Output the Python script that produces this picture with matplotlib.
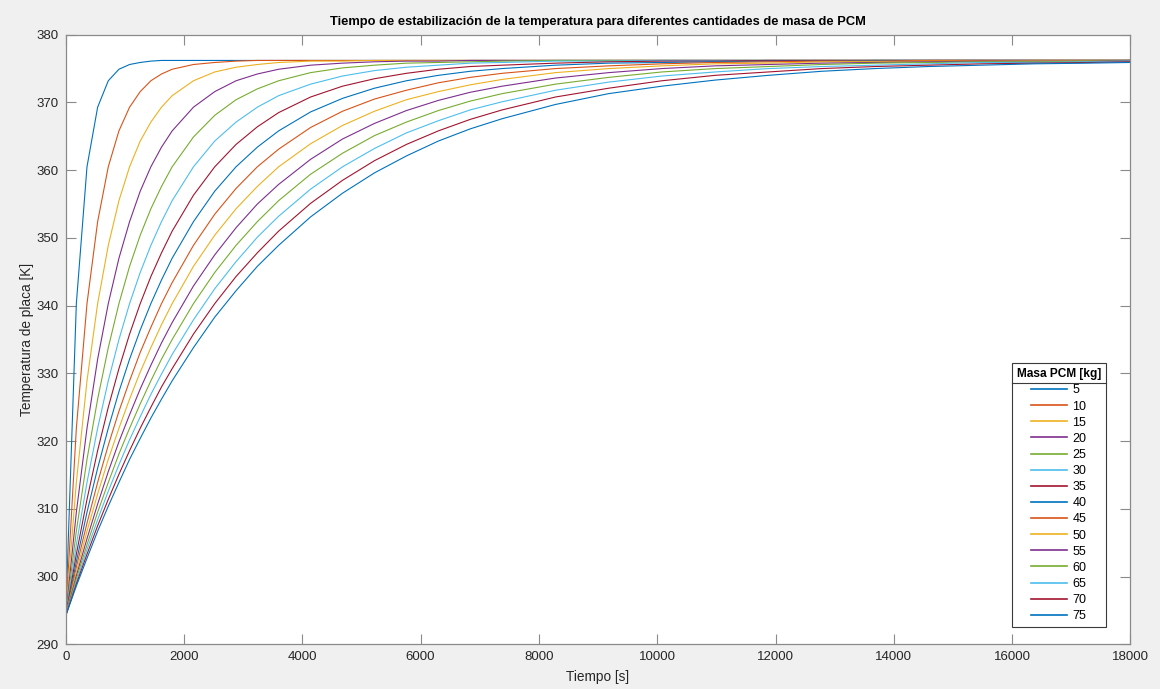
import matplotlib
matplotlib.use("Agg")
import matplotlib.pyplot as plt
from matplotlib.lines import Line2D

# ---------------- data ----------------
tiempo = [0, 180, 360, 540, 720, 900, 1080, 1260, 1440, 1620, 1800,
          2160, 2520, 2880, 3240, 3600, 4140, 4680, 5220, 5760, 6300,
          6840, 7380, 8280, 9180, 10080, 10980, 11880, 12780, 13680,
          14580, 15480, 16380, 17280, 18000]

masas = [5, 10, 15, 20, 25, 30, 35, 40, 45, 50, 55, 60, 65, 70, 75]

temp_m05 = [294.2, 340.3, 360.5, 369.3, 373.2, 374.9, 375.6, 375.9, 376.1, 376.2, 376.2,
            376.2, 376.2, 376.2, 376.2, 376.2, 376.2, 376.2, 376.2, 376.2, 376.2,
            376.2, 376.2, 376.2, 376.2, 376.2, 376.2, 376.2, 376.2, 376.2,
            376.2, 376.2, 376.2, 376.2, 376.2]
temp_m10 = [294.2, 321.9, 340.3, 352.4, 360.5, 365.8, 369.3, 371.6, 373.2, 374.2, 374.9,
            375.6, 375.9, 376.1, 376.2, 376.2, 376.2, 376.2, 376.2, 376.2, 376.2,
            376.2, 376.2, 376.2, 376.2, 376.2, 376.2, 376.2, 376.2, 376.2,
            376.2, 376.2, 376.2, 376.2, 376.2]
temp_m15 = [294.2, 313.9, 328.9, 340.3, 348.9, 355.5, 360.5, 364.3, 367.1, 369.3, 371.0,
            373.2, 374.5, 375.2, 375.6, 375.9, 376.1, 376.1, 376.2, 376.2, 376.2,
            376.2, 376.2, 376.2, 376.2, 376.2, 376.2, 376.2, 376.2, 376.2,
            376.2, 376.2, 376.2, 376.2, 376.2]
temp_m20 = [294.2, 309.5, 321.9, 332.1, 340.3, 347.0, 352.4, 356.9, 360.5, 363.4, 365.8,
            369.3, 371.6, 373.2, 374.2, 374.9, 375.5, 375.8, 376.0, 376.1, 376.1,
            376.2, 376.2, 376.2, 376.2, 376.2, 376.2, 376.2, 376.2, 376.2,
            376.2, 376.2, 376.2, 376.2, 376.2]
temp_m25 = [294.2, 306.7, 317.3, 326.2, 333.8, 340.3, 345.8, 350.4, 354.3, 357.6, 360.5,
            364.9, 368.1, 370.4, 372.0, 373.2, 374.4, 375.1, 375.5, 375.8, 375.9,
            376.0, 376.1, 376.2, 376.2, 376.2, 376.2, 376.2, 376.2, 376.2,
            376.2, 376.2, 376.2, 376.2, 376.2]
temp_m30 = [294.2, 304.7, 313.9, 321.9, 328.9, 335.0, 340.3, 344.9, 348.9, 352.4, 355.5,
            360.5, 364.3, 367.1, 369.3, 371.0, 372.7, 373.9, 374.7, 375.2, 375.5,
            375.8, 375.9, 376.1, 376.1, 376.2, 376.2, 376.2, 376.2, 376.2,
            376.2, 376.2, 376.2, 376.2, 376.2]
temp_m35 = [294.2, 303.3, 311.4, 318.6, 325.0, 330.7, 335.8, 340.3, 344.3, 347.8, 351.0,
            356.3, 360.5, 363.8, 366.4, 368.5, 370.8, 372.4, 373.5, 374.3, 374.9,
            375.3, 375.5, 375.8, 376.0, 376.1, 376.1, 376.2, 376.2, 376.2,
            376.2, 376.2, 376.2, 376.2, 376.2]
temp_m40 = [294.2, 302.2, 309.5, 316.0, 321.9, 327.3, 332.1, 336.4, 340.3, 343.8, 347.0,
            352.4, 356.9, 360.5, 363.4, 365.8, 368.6, 370.6, 372.1, 373.2, 374.0,
            374.6, 375.0, 375.5, 375.8, 375.9, 376.0, 376.1, 376.1, 376.2,
            376.2, 376.2, 376.2, 376.2, 376.2]
temp_m45 = [294.2, 301.4, 307.9, 313.9, 319.4, 324.4, 328.9, 333.1, 336.8, 340.3, 343.4,
            348.9, 353.5, 357.3, 360.5, 363.1, 366.3, 368.7, 370.5, 371.8, 372.9,
            373.7, 374.3, 375.0, 375.4, 375.7, 375.9, 376.0, 376.1, 376.1,
            376.2, 376.2, 376.2, 376.2, 376.2]
temp_m50 = [294.2, 300.7, 306.7, 312.2, 317.3, 321.9, 326.2, 330.2, 333.8, 337.2, 340.3,
            345.8, 350.4, 354.3, 357.6, 360.5, 363.9, 366.6, 368.7, 370.4, 371.6,
            372.6, 373.4, 374.4, 375.0, 375.4, 375.7, 375.8, 376.0, 376.0,
            376.1, 376.1, 376.2, 376.2, 376.2]
temp_m55 = [294.2, 300.1, 305.6, 310.7, 315.5, 319.9, 323.9, 327.7, 331.2, 334.5, 337.5,
            342.9, 347.5, 351.5, 355.0, 357.9, 361.6, 364.6, 366.9, 368.8, 370.3,
            371.5, 372.4, 373.6, 374.4, 375.0, 375.4, 375.6, 375.8, 375.9,
            376.0, 376.1, 376.1, 376.1, 376.2]
temp_m60 = [294.2, 299.7, 304.7, 309.5, 313.9, 318.1, 321.9, 325.5, 328.9, 332.1, 335.0,
            340.3, 344.9, 348.9, 352.4, 355.5, 359.4, 362.5, 365.1, 367.1, 368.8,
            370.2, 371.3, 372.7, 373.7, 374.5, 375.0, 375.3, 375.6, 375.8,
            375.9, 376.0, 376.0, 376.1, 376.1]
temp_m65 = [294.2, 299.2, 304.0, 308.4, 312.6, 316.5, 320.2, 323.6, 326.9, 329.9, 332.8,
            337.9, 342.5, 346.5, 350.1, 353.2, 357.2, 360.5, 363.2, 365.5, 367.3,
            368.9, 370.1, 371.8, 373.0, 373.9, 374.5, 375.0, 375.3, 375.5,
            375.7, 375.9, 375.9, 376.0, 376.1]
temp_m70 = [294.2, 298.9, 303.3, 307.5, 311.4, 315.1, 318.6, 321.9, 325.0, 328.0, 330.7,
            335.8, 340.3, 344.3, 347.8, 351.0, 355.1, 358.5, 361.4, 363.8, 365.8,
            367.5, 368.9, 370.8, 372.1, 373.2, 374.0, 374.5, 375.0, 375.3,
            375.5, 375.7, 375.8, 375.9, 376.0]
temp_m75 = [294.2, 298.6, 302.7, 306.7, 310.4, 313.9, 317.3, 320.4, 323.4, 326.2, 328.9,
            333.8, 338.3, 342.2, 345.8, 348.9, 353.1, 356.6, 359.6, 362.1, 364.3,
            366.1, 367.6, 369.7, 371.3, 372.4, 373.3, 374.0, 374.6, 375.0,
            375.3, 375.5, 375.7, 375.8, 375.9]

x_ticks = [0, 2000, 4000, 6000, 8000, 10000, 12000, 14000, 16000, 18000]
y_ticks = [290, 300, 310, 320, 330, 340, 350, 360, 370, 380]

titulo = "Tiempo de estabilización de la temperatura para diferentes cantidades de masa de PCM"
etiqueta_x = "Tiempo [s]"
etiqueta_y = "Temperatura de placa [K]"
titulo_leyenda = "Masa PCM [kg]"

# ---------------- style ----------------
matlab_colors = ["#0072BD", "#D95319", "#EDB120", "#7E2F8E",
                 "#77AC30", "#4DBEEE", "#A2142F"]
text_col = "#262626"
axis_col = "#8a8a8a"

plt.rcParams["font.family"] = ["Liberation Sans", "DejaVu Sans"]

W, H = 1160, 689
ax_x0, ax_x1, ax_y0, ax_y1 = 65.7, 1130.4, 34.7, 644.3
fig = plt.figure(figsize=(W / 100, H / 100), dpi=100, facecolor="#F0F0F0")
ax = fig.add_axes([ax_x0 / W, 1 - ax_y1 / H, (ax_x1 - ax_x0) / W, (ax_y1 - ax_y0) / H])
ax.set_facecolor("white")

series = [temp_m05, temp_m10, temp_m15, temp_m20, temp_m25, temp_m30, temp_m35,
          temp_m40, temp_m45, temp_m50, temp_m55, temp_m60, temp_m65, temp_m70, temp_m75]

for i, (m, temps) in enumerate(zip(masas, series)):
    ax.plot(tiempo, temps, color=matlab_colors[i % len(matlab_colors)],
            lw=0.8, label=str(m))

ax.set_xlim(0, 18000)
ax.set_ylim(290, 380)
ax.set_xticks(x_ticks)
ax.set_yticks(y_ticks)
ax.set_xticklabels([str(v) for v in x_ticks])
ax.set_yticklabels([str(v) for v in y_ticks])

for s in ax.spines.values():
    s.set_color(axis_col)
    s.set_linewidth(0.9)

ax.tick_params(direction="in", length=7, width=0.8, color=axis_col,
               labelcolor=text_col, labelsize=9.5, top=True, right=True,
               pad=5)

ax.set_title(titulo, fontsize=9.3, fontweight="bold", color="black", pad=7)
ax.set_xlabel(etiqueta_x, fontsize=9.8, color=text_col, labelpad=5)
ax.set_ylabel(etiqueta_y, fontsize=9.8, color=text_col)
# ylabel anchored (right edge of rotated text) just left of the tick labels
ax.yaxis.set_label_coords((34.0 - ax_x0) / (ax_x1 - ax_x0), 0.5)

leg = ax.legend(title=titulo_leyenda, loc="lower right",
                bbox_to_anchor=(0.977, 0.028), frameon=True, fancybox=False,
                edgecolor="#3a3a3a", framealpha=1, fontsize=9,
                title_fontsize=8.6, handlelength=2.9, handletextpad=0.4,
                labelspacing=0.33, borderpad=0.4, borderaxespad=0.0)
leg.get_title().set_fontweight("bold")
leg.get_frame().set_linewidth(0.8)
leg._legend_box.align = "center"
for h in leg.get_lines():
    h.set_linewidth(1.2)

# separator line under the legend title
fig.canvas.draw()
r = fig.canvas.get_renderer()
lb = leg.get_window_extent(r)
tb = leg.get_title().get_window_extent(r)
y_sep = (tb.y0 - 3) / H
fig.add_artist(Line2D([lb.x0 / W, lb.x1 / W], [y_sep, y_sep],
                      color="#3a3a3a", lw=0.8, transform=fig.transFigure))

fig.savefig("out.png", dpi=100, facecolor=fig.get_facecolor())
